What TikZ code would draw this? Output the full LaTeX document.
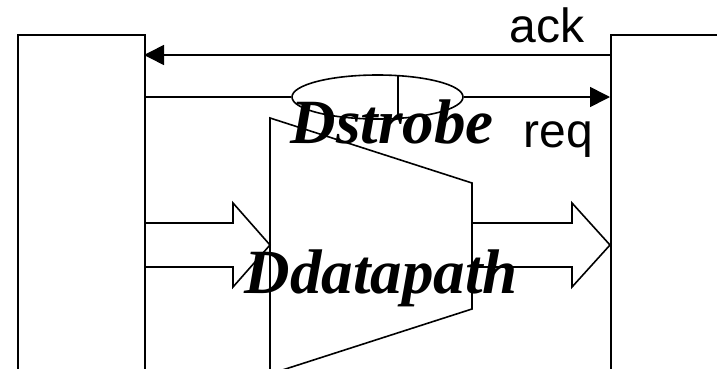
\documentclass[tikz,border=0pt]{standalone}
\usepackage{fontspec}
\setmainfont{Liberation Serif}
\newfontfamily\labelfont{Liberation Sans}
\usetikzlibrary{arrows.meta,shapes.geometric}
\begin{document}
\begin{tikzpicture}[x=1pt,y=-1pt,line width=1.6pt,
  unitbox/.style={draw,rectangle,inner sep=0pt,anchor=north west},
  sig/.style={-{Triangle[length=20pt,width=20pt]}},
  wirelabel/.style={inner sep=0pt,anchor=base west,font=\labelfont\fontsize{48}{56}\selectfont},
  blocklabel/.style={inner sep=0pt,anchor=base west,font=\fontsize{63}{72}\selectfont\bfseries\itshape},
  bus/.style={draw,line join=miter}]
\useasboundingbox (0,0) rectangle (717,369);
\clip (0,0) rectangle (717,369);

% sender and receiver units
\node[unitbox,minimum width=127pt,minimum height=400pt] (sender) at (17,34) {};
\node[unitbox,minimum width=160pt,minimum height=400pt] (receiver) at (610,34) {};

% datapath block (trapezoid)
\draw (270,118) -- (472,183) -- (472,309) -- (270,374) -- cycle;

% wide data buses
\draw[bus] (144,223) -- (233,223) -- (233,203) -- (270,245) -- (233,287) -- (233,267) -- (144,267);
\draw[bus] (472,223) -- (572,223) -- (572,203) -- (610,245) -- (572,287) -- (572,267) -- (472,267);

% handshake wires
\coordinate (ackR) at (610,55);
\coordinate (ackL) at (144,55);
\coordinate (reqL) at (144,97);
\coordinate (reqR) at (610,97);
\draw[sig] (ackR) -- (ackL);

\node[draw,fill=white,ellipse,inner sep=0pt,minimum width=171pt,minimum height=44pt] (strobe) at (377.5,97) {};
\draw (reqL) -- (strobe.west);
\draw[sig] (strobe.east) -- (reqR);
\coordinate (tapT) at (398,75.6);
\coordinate (tapB) at (398,118.4);
\draw (tapT) -- (tapB);

% labels
\node[wirelabel] (ack) at (509,43) {ack};
\node[wirelabel] (req) at (523,147) {req};
\node[blocklabel] (dstrobe) at (290,143) {Dstrobe};
\node[blocklabel] (ddatapath) at (244,293) {Ddatapath};
\end{tikzpicture}
\end{document}
